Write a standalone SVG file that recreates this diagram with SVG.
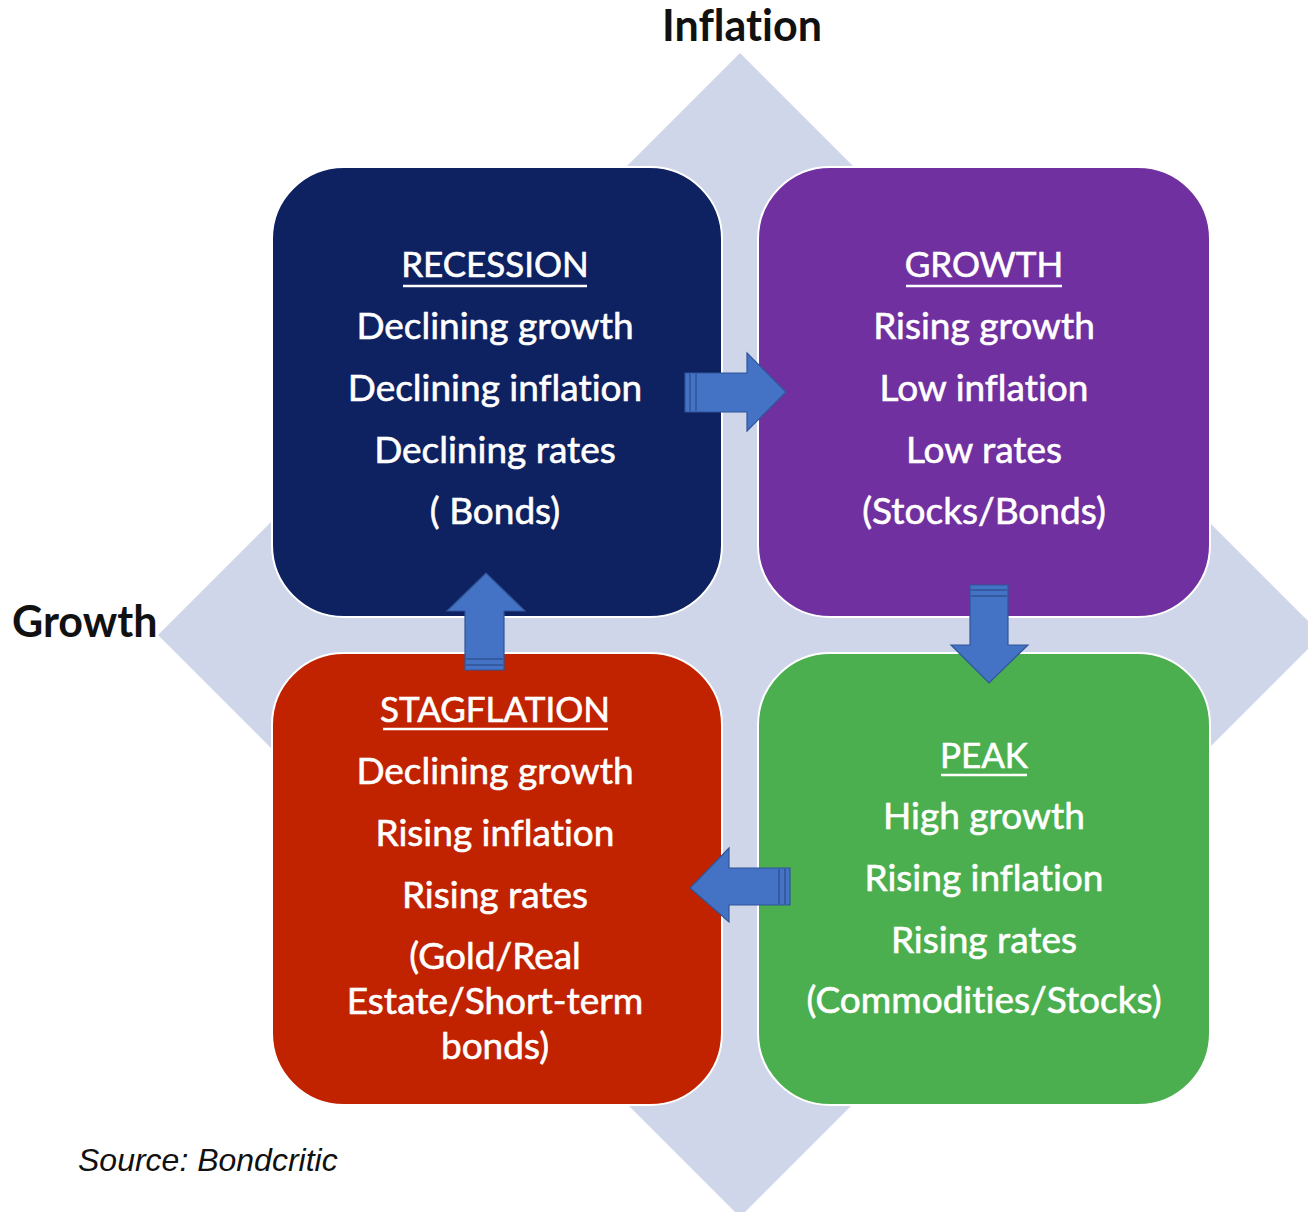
<svg xmlns="http://www.w3.org/2000/svg" width="1308" height="1212" viewBox="0 0 1308 1212">
  <style>
    .axis { font-family: Lato, "Liberation Sans", sans-serif; font-weight: bold; font-size: 43px; fill: #111111; font-variant-ligatures: none; }
    .head { font-family: Lato, "Liberation Sans", sans-serif; font-size: 35px; fill: #ffffff; stroke: #ffffff; stroke-width: 0.6; text-anchor: middle; font-variant-ligatures: none; }
    .body { font-family: Lato, "Liberation Sans", sans-serif; font-size: 37px; fill: #ffffff; stroke: #ffffff; stroke-width: 0.6; text-anchor: middle; font-variant-ligatures: none; }
    .uline { stroke: #ffffff; stroke-width: 2.5; }
    .box { stroke: #ffffff; stroke-width: 2; }
    .arrow { fill: #4472C4; stroke: #2F5597; stroke-width: 1.2; stroke-linejoin: miter; }
    .tail { stroke: #2F5597; stroke-width: 1.5; }
    .source { font-family: "Liberation Sans", Arial, sans-serif; font-style: italic; font-size: 32px; fill: #111111; }
  </style>

  <rect width="1308" height="1212" fill="#ffffff"/>

  <!-- background axis diamond -->
  <polygon id="axis-diamond" points="740,53 1322,635 740,1217 158,635" fill="#CFD6EA"/>

  <!-- axis labels -->
  <text class="axis" x="742" y="41" text-anchor="middle">Inflation</text>
  <text class="axis" x="12" y="637">Growth</text>

  <!-- quadrant: recession -->
  <g id="recession">
    <rect class="box" x="272" y="167" width="450" height="450" rx="72" fill="#0E2160"/>
    <text class="head" x="495" y="277">RECESSION</text>
    <line class="uline" x1="403" y1="286" x2="587" y2="286"/>
    <text class="body" x="495" y="339">Declining growth</text>
    <text class="body" x="495" y="401">Declining inflation</text>
    <text class="body" x="495" y="463">Declining rates</text>
    <text class="body" x="495" y="524">( Bonds)</text>
  </g>

  <!-- quadrant: growth -->
  <g id="growth">
    <rect class="box" x="758" y="167" width="452" height="450" rx="72" fill="#7030A0"/>
    <text class="head" x="984" y="277">GROWTH</text>
    <line class="uline" x1="906" y1="286" x2="1062" y2="286"/>
    <text class="body" x="984" y="339">Rising growth</text>
    <text class="body" x="984" y="401">Low inflation</text>
    <text class="body" x="984" y="463">Low rates</text>
    <text class="body" x="984" y="524">(Stocks/Bonds)</text>
  </g>

  <!-- quadrant: stagflation -->
  <g id="stagflation">
    <rect class="box" x="272" y="653" width="450" height="452" rx="72" fill="#C12200"/>
    <text class="head" x="495" y="722">STAGFLATION</text>
    <line class="uline" x1="383" y1="729" x2="608" y2="729"/>
    <text class="body" x="495" y="784">Declining growth</text>
    <text class="body" x="495" y="846">Rising inflation</text>
    <text class="body" x="495" y="908">Rising rates</text>
    <text class="body" x="495" y="969">(Gold/Real</text>
    <text class="body" x="495" y="1014">Estate/Short-term</text>
    <text class="body" x="495" y="1059">bonds)</text>
  </g>

  <!-- quadrant: peak -->
  <g id="peak">
    <rect class="box" x="758" y="653" width="452" height="452" rx="72" fill="#4BAF4F"/>
    <text class="head" x="984" y="768">PEAK</text>
    <line class="uline" x1="941" y1="775" x2="1027" y2="775"/>
    <text class="body" x="984" y="829">High growth</text>
    <text class="body" x="984" y="891">Rising inflation</text>
    <text class="body" x="984" y="953">Rising rates</text>
    <text class="body" x="984" y="1013">(Commodities/Stocks)</text>
  </g>

  <!-- cycle arrows -->
  <g id="connectors">
    <!-- recession to growth -->
    <polygon class="arrow" points="685,373 747,373 747,353 786,392 747,431 747,412 685,412"/>
    <line class="tail" x1="690" y1="374" x2="690" y2="411"/>
    <line class="tail" x1="696" y1="374" x2="696" y2="411"/>
    <!-- growth to peak -->
    <polygon class="arrow" points="970,585 1008,585 1008,645 1028,645 989,683 951,645 970,645"/>
    <line class="tail" x1="971" y1="590" x2="1007" y2="590"/>
    <line class="tail" x1="971" y1="596" x2="1007" y2="596"/>
    <!-- peak to stagflation -->
    <polygon class="arrow" points="790,868 729,868 729,848 690,888 729,922 729,905 790,905"/>
    <line class="tail" x1="785" y1="869" x2="785" y2="904"/>
    <line class="tail" x1="779" y1="869" x2="779" y2="904"/>
    <!-- stagflation to recession -->
    <polygon class="arrow" points="465,670 465,611 447,611 486,573 525,611 504,611 504,670"/>
    <line class="tail" x1="466" y1="665" x2="503" y2="665"/>
    <line class="tail" x1="466" y1="659" x2="503" y2="659"/>
  </g>

  <text class="source" x="78" y="1171">Source: Bondcritic</text>
</svg>
